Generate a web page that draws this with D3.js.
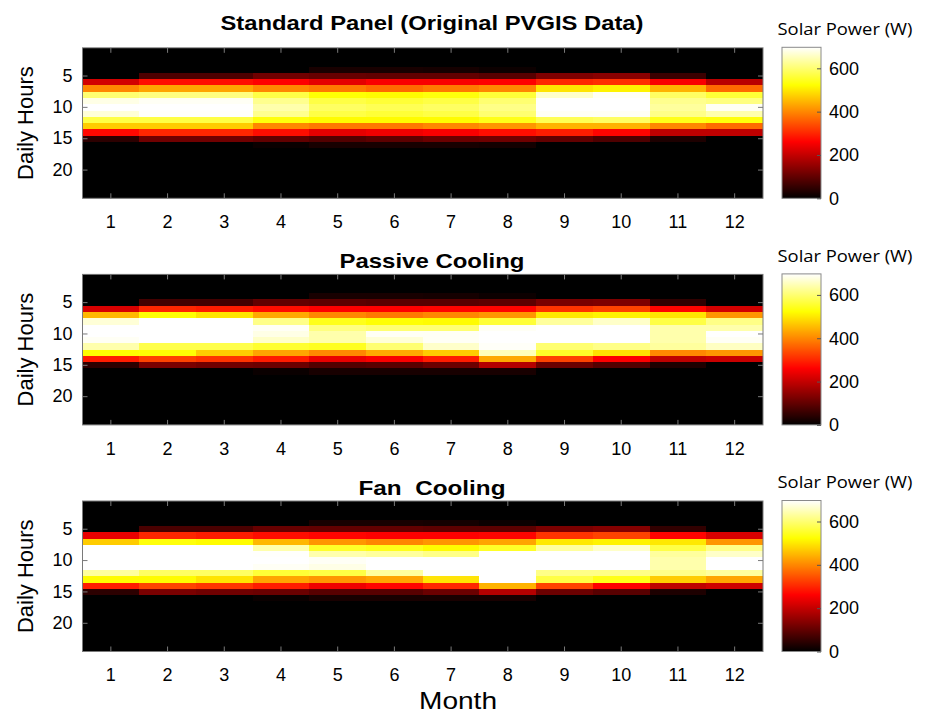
<!DOCTYPE html>
<html>
<head>
<meta charset="utf-8">
<script src="https://cdn.jsdelivr.net/npm/d3@7"></script>
<style>
  body { margin: 0; background: #fff; }
  text { font-family: Arial, "Liberation Sans", sans-serif; fill: #000; }
</style>
</head>
<body>
<div id="chart"></div>
<script>
////////////////// data //////////////////

const months = [1, 2, 3, 4, 5, 6, 7, 8, 9, 10, 11, 12]
const hours = [1, 2, 3, 4, 5, 6, 7, 8, 9, 10, 11, 12, 13, 14, 15, 16, 17, 18, 19, 20, 21, 22, 23, 24]
// hours with any sunlight; every other hour is 0 W (black)
const daylightHours = [4, 5, 6, 7, 8, 9, 10, 11, 12, 13, 14, 15, 16]

// rows = daylightHours, columns = months, values in W
const standardPanel = [
  [0, 0, 0, 0, 25, 25, 22, 12, 0, 0, 0, 0],
  [0, 80, 80, 115, 105, 100, 100, 90, 130, 140, 60, 0],
  [215, 275, 275, 260, 235, 255, 255, 260, 300, 310, 255, 190],
  [400, 430, 430, 400, 385, 370, 385, 400, 495, 510, 445, 370],
  [600, 610, 610, 570, 525, 520, 530, 560, 660, 690, 590, 560],
  [680, 690, 690, 620, 570, 560, 570, 600, 697, 697, 620, 610],
  [697, 697, 697, 640, 590, 580, 590, 615, 697, 697, 630, 690],
  [670, 695, 695, 620, 570, 560, 570, 600, 690, 690, 615, 640],
  [570, 570, 570, 530, 520, 520, 520, 540, 580, 590, 540, 530],
  [470, 470, 470, 400, 385, 385, 400, 415, 445, 445, 400, 370],
  [270, 300, 300, 275, 235, 245, 255, 275, 290, 265, 195, 195],
  [45, 115, 115, 100, 85, 95, 110, 115, 100, 80, 30, 0],
  [0, 0, 0, 10, 25, 25, 25, 20, 0, 0, 0, 0]
]

const passiveCooling = [
  [0, 0, 0, 0, 25, 25, 22, 12, 0, 0, 0, 0],
  [0, 70, 70, 100, 95, 90, 90, 95, 125, 130, 50, 0],
  [220, 300, 290, 275, 260, 260, 265, 265, 315, 330, 265, 215],
  [450, 525, 495, 435, 400, 385, 400, 415, 500, 510, 495, 415],
  [670, 697, 697, 615, 540, 525, 520, 560, 630, 660, 570, 615],
  [697, 697, 697, 690, 610, 600, 600, 690, 697, 697, 640, 640],
  [697, 697, 697, 680, 640, 690, 690, 697, 697, 697, 640, 697],
  [690, 697, 697, 660, 640, 670, 690, 697, 697, 697, 640, 690],
  [640, 575, 575, 555, 545, 600, 660, 692, 600, 615, 630, 655],
  [520, 525, 470, 430, 400, 435, 470, 650, 550, 495, 400, 415],
  [290, 330, 315, 290, 240, 255, 290, 435, 330, 260, 195, 205],
  [45, 125, 115, 110, 85, 90, 110, 185, 110, 85, 30, 0],
  [0, 0, 0, 10, 25, 25, 25, 25, 0, 0, 0, 0]
]

const fanCooling = [
  [0, 0, 0, 0, 25, 25, 22, 12, 0, 0, 0, 0],
  [0, 75, 75, 105, 100, 100, 95, 95, 125, 135, 50, 0],
  [240, 300, 290, 275, 265, 260, 260, 265, 315, 330, 265, 220],
  [470, 530, 520, 450, 415, 400, 415, 430, 500, 510, 500, 415],
  [697, 697, 697, 640, 550, 540, 520, 550, 630, 660, 570, 615],
  [697, 697, 697, 695, 640, 630, 615, 697, 697, 697, 630, 660],
  [697, 697, 697, 697, 690, 697, 697, 697, 697, 697, 640, 697],
  [697, 697, 697, 690, 680, 697, 697, 697, 697, 697, 640, 697],
  [630, 590, 590, 560, 570, 630, 690, 697, 615, 615, 615, 630],
  [520, 520, 495, 430, 415, 430, 495, 697, 570, 540, 470, 430],
  [290, 330, 315, 290, 245, 265, 300, 445, 330, 260, 195, 210],
  [45, 125, 115, 110, 90, 90, 110, 185, 110, 90, 30, 0],
  [0, 0, 0, 10, 25, 25, 25, 25, 0, 0, 0, 0]
]

const panelTitles = ["Standard Panel (Original PVGIS Data)", "Passive Cooling", "Fan  Cooling"]
const hourTicks = [5, 10, 15, 20]
const powerTicks = [0, 200, 400, 600]
const powerMax = 697

////////////////// layout //////////////////

const width = 927, height = 715
const plotLeft = 82.5, plotRight = 763
const panelTops = [47.8, 274.4, 501]
const panelHeight = 150.5
const titleBaselines = [30, 268, 494.5]
const titleWidths = [423, 185, 147]
const barLeft = 782, barWidth = 39
const axisGray = "#7a7a7a"

// MATLAB "hot" colormap
function hot(t) {
  t = Math.max(0, Math.min(1, t))
  const r = Math.min(1, t / 0.375)
  const g = Math.max(0, Math.min(1, (t - 0.375) / 0.375))
  const b = Math.max(0, Math.min(1, (t - 0.75) / 0.25))
  return d3.rgb(r * 255, g * 255, b * 255).toString()
}

const svg = d3.select("#chart").append("svg")
  .attr("width", width)
  .attr("height", height)

const defs = svg.append("defs")
const grad = defs.append("linearGradient")
  .attr("id", "hotGrad")
  .attr("x1", 0).attr("y1", 1).attr("x2", 0).attr("y2", 0)
d3.range(0, 65).forEach(i => {
  grad.append("stop").attr("offset", i / 64).attr("stop-color", hot(i / 64))
})

const x = d3.scaleBand().domain(months).range([plotLeft, plotRight]).padding(0)

function drawPanel(i, values) {
  const top = panelTops[i]
  const y = d3.scaleBand().domain(hours).range([top, top + panelHeight]).padding(0)
  const g = svg.append("g")

  const cells = []
  hours.forEach(h => {
    const row = daylightHours.indexOf(h)
    months.forEach((m, j) => {
      cells.push({ hour: h, month: m, value: row >= 0 ? values[row][j] : 0 })
    })
  })

  g.selectAll("rect.cell")
    .data(cells)
    .join("rect")
    .attr("class", "cell")
    .attr("x", d => x(d.month))
    .attr("y", d => y(d.hour))
    .attr("width", x.bandwidth() + 0.6)
    .attr("height", y.bandwidth() + 0.6)
    .attr("shape-rendering", "crispEdges")
    .attr("fill", d => hot(d.value / powerMax))

  // cells overflow by 0.6 to hide seams; clip them back to the box
  g.append("rect")
    .attr("x", plotRight).attr("y", top - 1)
    .attr("width", 1.5).attr("height", panelHeight + 2)
    .attr("fill", "#fff")
  g.append("rect")
    .attr("x", plotLeft).attr("y", top + panelHeight)
    .attr("width", plotRight - plotLeft + 1.5).attr("height", 1.5)
    .attr("fill", "#fff")

  // axes, ticks pointing inward like MATLAB
  const bottom = g.append("g")
    .attr("transform", `translate(0,${top + panelHeight})`)
    .call(d3.axisBottom(x).tickSizeInner(-5).tickSizeOuter(0).tickPadding(17))
  const left = g.append("g")
    .attr("transform", `translate(${plotLeft},0)`)
    .call(d3.axisLeft(y).tickValues(hourTicks).tickSizeInner(-5).tickSizeOuter(0).tickPadding(10))
  const topAxis = g.append("g")
    .attr("transform", `translate(0,${top})`)
    .call(d3.axisTop(x).tickSizeInner(-5).tickSizeOuter(0).tickFormat(""))
  const rightAxis = g.append("g")
    .attr("transform", `translate(${plotRight},0)`)
    .call(d3.axisRight(y).tickValues(hourTicks).tickSizeInner(-5).tickSizeOuter(0).tickFormat(""))

  ;[bottom, left, topAxis, rightAxis].forEach(a => {
    a.select(".domain").remove()
    a.selectAll("line").attr("stroke", axisGray)
    a.selectAll("text").style("font-size", "18px").attr("fill", "#000")
  })

  g.append("rect")
    .attr("x", plotLeft).attr("y", top)
    .attr("width", plotRight - plotLeft).attr("height", panelHeight)
    .attr("fill", "none")
    .attr("stroke", axisGray)
    .attr("stroke-width", 1)

  // title
  g.append("text")
    .attr("x", 432)
    .attr("y", titleBaselines[i])
    .attr("text-anchor", "middle")
    .style("font-size", "21px")
    .style("font-weight", "bold")
    .style("white-space", "pre")
    .attr("textLength", titleWidths[i])
    .attr("lengthAdjust", "spacingAndGlyphs")
    .text(panelTitles[i])

  // y label
  g.append("text")
    .attr("transform", `translate(33,${top + panelHeight / 2}) rotate(-90)`)
    .attr("text-anchor", "middle")
    .style("font-size", "22px")
    .text("Daily Hours")

  // colorbar
  const c = d3.scaleLinear().domain([0, powerMax]).range([top + panelHeight, top - 0.5])
  g.append("rect")
    .attr("x", barLeft).attr("y", top - 0.5)
    .attr("width", barWidth).attr("height", panelHeight + 0.5)
    .attr("fill", "url(#hotGrad)")
    .attr("stroke", "#8a8a8a")
  const bar = g.append("g")
    .attr("transform", `translate(${barLeft + barWidth},0)`)
    .call(d3.axisRight(c).tickValues(powerTicks).tickSizeInner(-4).tickSizeOuter(0).tickPadding(8))
  bar.select(".domain").remove()
  bar.selectAll("line").attr("stroke", "#555")
  bar.selectAll("text").style("font-size", "18px").attr("fill", "#000")

  g.append("text")
    .attr("x", 845)
    .attr("y", top - 12.7)
    .attr("text-anchor", "middle")
    .style("font-family", "'Open Sans', 'Noto Sans', sans-serif")
    .style("font-size", "17px")
    .attr("textLength", 135)
    .attr("lengthAdjust", "spacingAndGlyphs")
    .text("Solar Power (W)")
}

drawPanel(0, standardPanel)
drawPanel(1, passiveCooling)
drawPanel(2, fanCooling)

svg.append("text")
  .attr("x", 458)
  .attr("y", 709)
  .attr("text-anchor", "middle")
  .style("font-size", "24px")
  .attr("textLength", 78)
  .attr("lengthAdjust", "spacingAndGlyphs")
  .text("Month")
</script>
</body>
</html>
